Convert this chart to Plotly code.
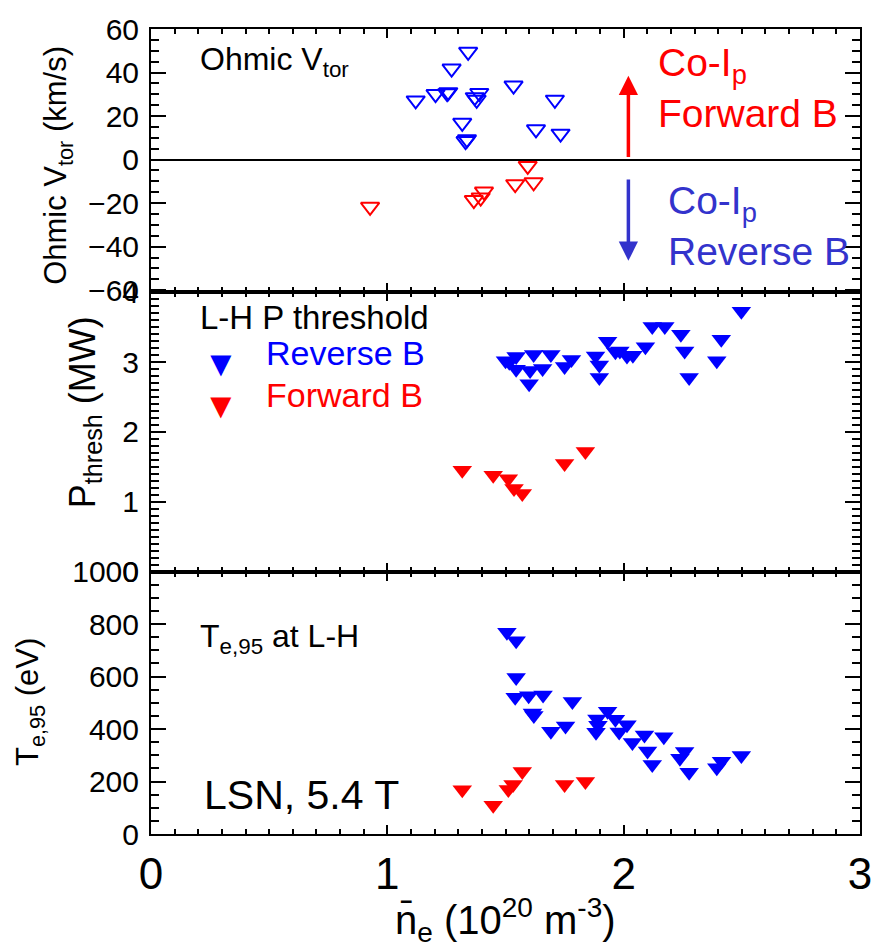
import plotly.graph_objects as go

# ---------------- data ----------------
# Top panel: Ohmic toroidal rotation (open triangles)
vtor_rev_ne = [1.342, 1.272, 1.120, 1.204, 1.253, 1.258, 1.370, 1.389, 1.378, 1.534, 1.709, 1.317, 1.337, 1.331, 1.629, 1.733]
vtor_rev_v = [49.5, 41.8, 27.2, 30.1, 30.5, 31.0, 28.7, 30.6, 27.5, 34.0, 27.5, 16.9, 9.3, 8.5, 13.9, 11.9]
vtor_fwd_ne = [0.927, 1.366, 1.409, 1.395, 1.541, 1.594, 1.619]
vtor_fwd_v = [-21.7, -18.6, -14.7, -17.4, -11.3, -2.9, -10.4]

# Middle panel: L-H power threshold (MW)
pth_rev_ne = [2.498, 2.121, 2.174, 2.242, 2.258, 2.413, 1.932, 2.092, 1.965, 1.984, 2.014, 2.039, 1.881, 1.897,
              1.897, 2.394, 2.277, 1.779, 1.750, 1.692, 1.619, 1.657, 1.604, 1.600, 1.545, 1.500, 1.516, 1.545]
pth_rev_p = [3.73, 3.51, 3.51, 3.40, 3.16, 3.33, 3.30, 3.22, 3.15, 3.16, 3.09, 3.10, 3.09, 2.96,
             2.78, 3.02, 2.78, 3.04, 2.94, 3.11, 3.11, 2.91, 2.88, 2.69, 3.08, 3.02, 3.00, 2.90]
pth_fwd_ne = [1.317, 1.448, 1.512, 1.536, 1.571, 1.750, 1.838]
pth_fwd_p = [1.45, 1.38, 1.33, 1.19, 1.12, 1.55, 1.72]

# Bottom panel: Te,95 at L-H (eV)
te_rev_ne = [1.506, 1.545, 1.545, 1.541, 1.598, 1.659, 1.783, 1.614, 1.620, 1.692, 1.754, 1.932, 1.887, 1.891, 1.883,
             1.965, 2.014, 1.981, 2.037, 2.088, 2.170, 2.101, 2.121, 2.258, 2.238, 2.277, 2.394, 2.414, 2.498]
te_rev_t = [769, 736, 596, 521, 527, 530, 505, 461, 452, 392, 412, 468, 438, 414, 388,
            437, 416, 389, 349, 377, 371, 316, 265, 314, 289, 235, 252, 277, 299]
te_fwd_ne = [1.317, 1.448, 1.512, 1.532, 1.571, 1.750, 1.838]
te_fwd_t = [169, 110, 170, 189, 238, 189, 200]

x_ticks = [0, 1, 2, 3]

# ---------------- style ----------------
BLUE = "#0000ff"
RED = "#ff0000"
TEXT_BLUE = "#3333cc"
FONT = "Arial, Liberation Sans, sans-serif"

fig = go.Figure()

fig.add_trace(go.Scatter(x=vtor_rev_ne, y=vtor_rev_v, mode="markers", xaxis="x", yaxis="y",
                         marker=dict(symbol="triangle-down-open", size=16, color=BLUE, line=dict(width=2, color=BLUE))))
fig.add_trace(go.Scatter(x=vtor_fwd_ne, y=vtor_fwd_v, mode="markers", xaxis="x", yaxis="y",
                         marker=dict(symbol="triangle-down-open", size=16, color=RED, line=dict(width=2, color=RED))))
fig.add_trace(go.Scatter(x=pth_rev_ne, y=pth_rev_p, mode="markers", xaxis="x2", yaxis="y2",
                         marker=dict(symbol="triangle-down", size=17, color=BLUE, line=dict(width=0))))
fig.add_trace(go.Scatter(x=pth_fwd_ne, y=pth_fwd_p, mode="markers", xaxis="x2", yaxis="y2",
                         marker=dict(symbol="triangle-down", size=17, color=RED, line=dict(width=0))))
fig.add_trace(go.Scatter(x=te_rev_ne, y=te_rev_t, mode="markers", xaxis="x3", yaxis="y3",
                         marker=dict(symbol="triangle-down", size=17, color=BLUE, line=dict(width=0))))
fig.add_trace(go.Scatter(x=te_fwd_ne, y=te_fwd_t, mode="markers", xaxis="x3", yaxis="y3",
                         marker=dict(symbol="triangle-down", size=17, color=RED, line=dict(width=0))))

D_TOP = [0.6728, 1.0]
D_MID = [0.326, 0.6728]
D_BOT = [0.0, 0.326]


def xax(anchor, show_labels):
    return dict(domain=[0, 1], range=[0, 3], anchor=anchor, tickvals=x_ticks,
                showticklabels=show_labels, ticks="inside", ticklen=9, tickwidth=2, tickcolor="black",
                minor=dict(dtick=0.1, tick0=0, ticks="inside", ticklen=5, tickwidth=1.5, tickcolor="black"),
                showline=True, linewidth=2, linecolor="black", mirror="allticks",
                showgrid=False, zeroline=False,
                tickfont=dict(family=FONT, size=44, color="black"))


def yax(domain, rng, dtick, minor_dtick, anchor, zeroline=False):
    return dict(domain=domain, range=rng, dtick=dtick, tick0=0, anchor=anchor,
                ticks="inside", ticklen=15, tickwidth=2, tickcolor="black",
                minor=dict(dtick=minor_dtick, tick0=0, ticks="inside", ticklen=8, tickwidth=1.5, tickcolor="black"),
                showline=True, linewidth=2, linecolor="black", mirror="allticks",
                showgrid=False, zeroline=zeroline, zerolinecolor="black", zerolinewidth=1.5,
                tickfont=dict(family=FONT, size=30, color="black"), ticklabelstandoff=4)


fig.update_layout(
    width=884, height=948,
    margin=dict(l=151, r=15, t=15, b=114),
    paper_bgcolor="white", plot_bgcolor="white",
    showlegend=False,
    xaxis=xax("y", False),
    xaxis2=xax("y2", False),
    xaxis3=xax("y3", True),
    yaxis=yax(D_TOP, [-61, 60], 20, 5, "x", zeroline=True),
    yaxis2=yax(D_MID, [0, 4], 1, 0.1, "x2"),
    yaxis3=yax(D_BOT, [0, 1000], 200, 50, "x3"),
    font=dict(family=FONT, color="black"),
)

ann = []
# y-axis titles
ann.append(dict(text="Ohmic V<sub>tor</sub> (km/s)", xref="paper", yref="paper", x=0, y=0.83,
                xshift=-93, textangle=-90, showarrow=False, font=dict(size=31), xanchor="center", yanchor="middle"))
ann.append(dict(text="P<sub>thresh</sub> (MW)", xref="paper", yref="paper", x=0, y=0.524,
                xshift=-66, textangle=-90, showarrow=False, font=dict(size=36), xanchor="center", yanchor="middle"))
ann.append(dict(text="T<sub>e,95</sub> (eV)", xref="paper", yref="paper", x=0, y=0.164,
                xshift=-121, textangle=-90, showarrow=False, font=dict(size=31), xanchor="center", yanchor="middle"))
# x-axis title
ann.append(dict(text="n\u0304<sub>e</sub> (10<sup>20</sup> m<sup>-3</sup>)", xref="paper", yref="paper",
                x=0.5, y=0, yshift=-86, showarrow=False, font=dict(size=40), xanchor="center", yanchor="middle"))

# top panel texts
ann.append(dict(text="Ohmic V<sub>tor</sub>", xref="x", yref="y", x=0.2, y=45, showarrow=False,
                font=dict(size=32), xanchor="left", yanchor="middle"))
ann.append(dict(text="Co-I<sub>p</sub><br>Forward B", xref="x", yref="y", x=2.137, y=33, showarrow=False,
                font=dict(size=39, color=RED), xanchor="left", yanchor="middle", align="left"))
ann.append(dict(text="Co-I<sub>p</sub><br>Reverse B", xref="x", yref="y", x=2.18, y=-30.5, showarrow=False,
                font=dict(size=39, color=TEXT_BLUE), xanchor="left", yanchor="middle", align="left"))
# arrows
ann.append(dict(text="", xref="x", yref="y", axref="x", ayref="y", x=2.02, y=38.5, ax=2.02, ay=0.5,
                showarrow=True, arrowhead=2, arrowsize=1.1, arrowwidth=3.5, arrowcolor=RED))
ann.append(dict(text="", xref="x", yref="y", axref="x", ayref="y", x=2.02, y=-46.5, ax=2.02, ay=-8.5,
                showarrow=True, arrowhead=2, arrowsize=1.1, arrowwidth=3.5, arrowcolor=TEXT_BLUE))

# middle panel texts
ann.append(dict(text="L-H P threshold", xref="x2", yref="y2", x=0.2, y=3.64, showarrow=False,
                font=dict(size=33), xanchor="left", yanchor="middle"))
ann.append(dict(text="Reverse B", xref="x2", yref="y2", x=0.48, y=3.13, showarrow=False,
                font=dict(size=34, color=BLUE), xanchor="left", yanchor="middle"))
ann.append(dict(text="Forward B", xref="x2", yref="y2", x=0.48, y=2.53, showarrow=False,
                font=dict(size=34, color=RED), xanchor="left", yanchor="middle"))
ann.append(dict(text="\u25BC", xref="x2", yref="y2", x=0.297, y=2.98, showarrow=False,
                font=dict(size=36, color=BLUE), xanchor="center", yanchor="middle"))
ann.append(dict(text="\u25BC", xref="x2", yref="y2", x=0.297, y=2.38, showarrow=False,
                font=dict(size=36, color=RED), xanchor="center", yanchor="middle"))

# bottom panel texts
ann.append(dict(text="T<sub>e,95</sub> at L-H", xref="x3", yref="y3", x=0.2, y=745, showarrow=False,
                font=dict(size=32), xanchor="left", yanchor="middle"))
ann.append(dict(text="LSN, 5.4 T", xref="x3", yref="y3", x=0.215, y=150, showarrow=False,
                font=dict(size=41), xanchor="left", yanchor="middle"))

fig.update_layout(annotations=ann)

fig.write_html("out.html")
